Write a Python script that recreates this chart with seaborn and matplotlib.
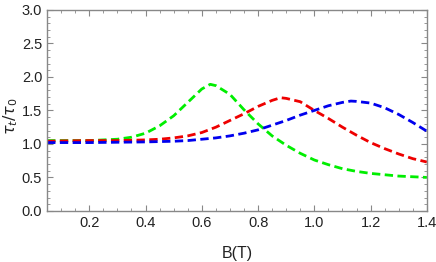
import matplotlib
matplotlib.use("Agg")
import pandas as pd
import seaborn as sns
from matplotlib import pyplot as plt
from matplotlib.ticker import MultipleLocator

sns.set_style("ticks")
plt.rcParams['font.family'] = ['Liberation Sans', 'DejaVu Sans']

# values
b_green = [0.05, 0.10, 0.15, 0.20, 0.25, 0.30, 0.35, 0.40, 0.45, 0.50, 0.55, 0.60, 0.63, 0.65,
           0.70, 0.75, 0.80, 0.85, 0.90, 0.95, 1.00, 1.05, 1.10, 1.15, 1.20, 1.25, 1.30, 1.35, 1.40]
tau_green = [1.05, 1.05, 1.05, 1.05, 1.06, 1.07, 1.10, 1.16, 1.27, 1.42, 1.62, 1.82, 1.89, 1.87,
             1.74, 1.51, 1.30, 1.12, 0.98, 0.86, 0.76, 0.69, 0.63, 0.59, 0.56, 0.54, 0.52, 0.51, 0.50]

b_red = [0.05, 0.10, 0.20, 0.30, 0.40, 0.45, 0.50, 0.55, 0.60, 0.65, 0.70, 0.75, 0.80, 0.85,
         0.88, 0.90, 0.95, 1.00, 1.05, 1.10, 1.15, 1.20, 1.25, 1.30, 1.35, 1.40]
tau_red = [1.04, 1.045, 1.05, 1.05, 1.06, 1.07, 1.09, 1.12, 1.17, 1.25, 1.35, 1.45, 1.56, 1.65,
           1.69, 1.68, 1.63, 1.50, 1.38, 1.25, 1.13, 1.02, 0.93, 0.85, 0.78, 0.73]

b_blue = [0.05, 0.20, 0.30, 0.40, 0.50, 0.55, 0.60, 0.65, 0.70, 0.75, 0.80, 0.85, 0.90, 0.95,
          1.00, 1.05, 1.10, 1.13, 1.15, 1.20, 1.25, 1.30, 1.35, 1.40]
tau_blue = [1.02, 1.02, 1.025, 1.03, 1.04, 1.05, 1.07, 1.09, 1.12, 1.16, 1.21, 1.28, 1.35, 1.43,
            1.50, 1.57, 1.62, 1.64, 1.635, 1.61, 1.54, 1.44, 1.32, 1.19]

series = [(b_green, tau_green, '#00ee00'),
          (b_red, tau_red, '#ee0000'),
          (b_blue, tau_blue, '#0000ee')]

fig = plt.figure(figsize=(4.36, 2.62), dpi=100)
ax = fig.add_axes([0.108, 0.195, 0.871, 0.767])

for b, tau, col in series:
    df = pd.DataFrame({'B': b, 'tau': tau})
    sns.lineplot(data=df, x='B', y='tau', ax=ax, color=col, lw=2, linestyle=(0, (3, 1.6)))

ax.set_xlim(0.05, 1.4)
ax.set_ylim(0, 3.0)
ax.xaxis.set_major_locator(MultipleLocator(0.2))
ax.xaxis.set_minor_locator(MultipleLocator(0.05))
ax.yaxis.set_major_locator(MultipleLocator(0.5))
ax.yaxis.set_minor_locator(MultipleLocator(0.1))
ax.tick_params(which='both', direction='in', top=True, right=True, color='#888888',
               labelsize=10.5, labelcolor='#222222')
ax.tick_params(which='major', length=4, width=0.8)
ax.tick_params(which='minor', length=2, width=0.6)
for s in ax.spines.values():
    s.set_color('#888888')
    s.set_linewidth(1)

ax.set_xlabel('B(T)', fontsize=11.5, color='#222222', labelpad=12)
ax.set_ylabel(r'$\tau_t/\tau_0$', fontsize=11.5, color='#222222')
ax.yaxis.set_label_coords(-0.072, 0.47)

fig.savefig('out.png', dpi=100)
